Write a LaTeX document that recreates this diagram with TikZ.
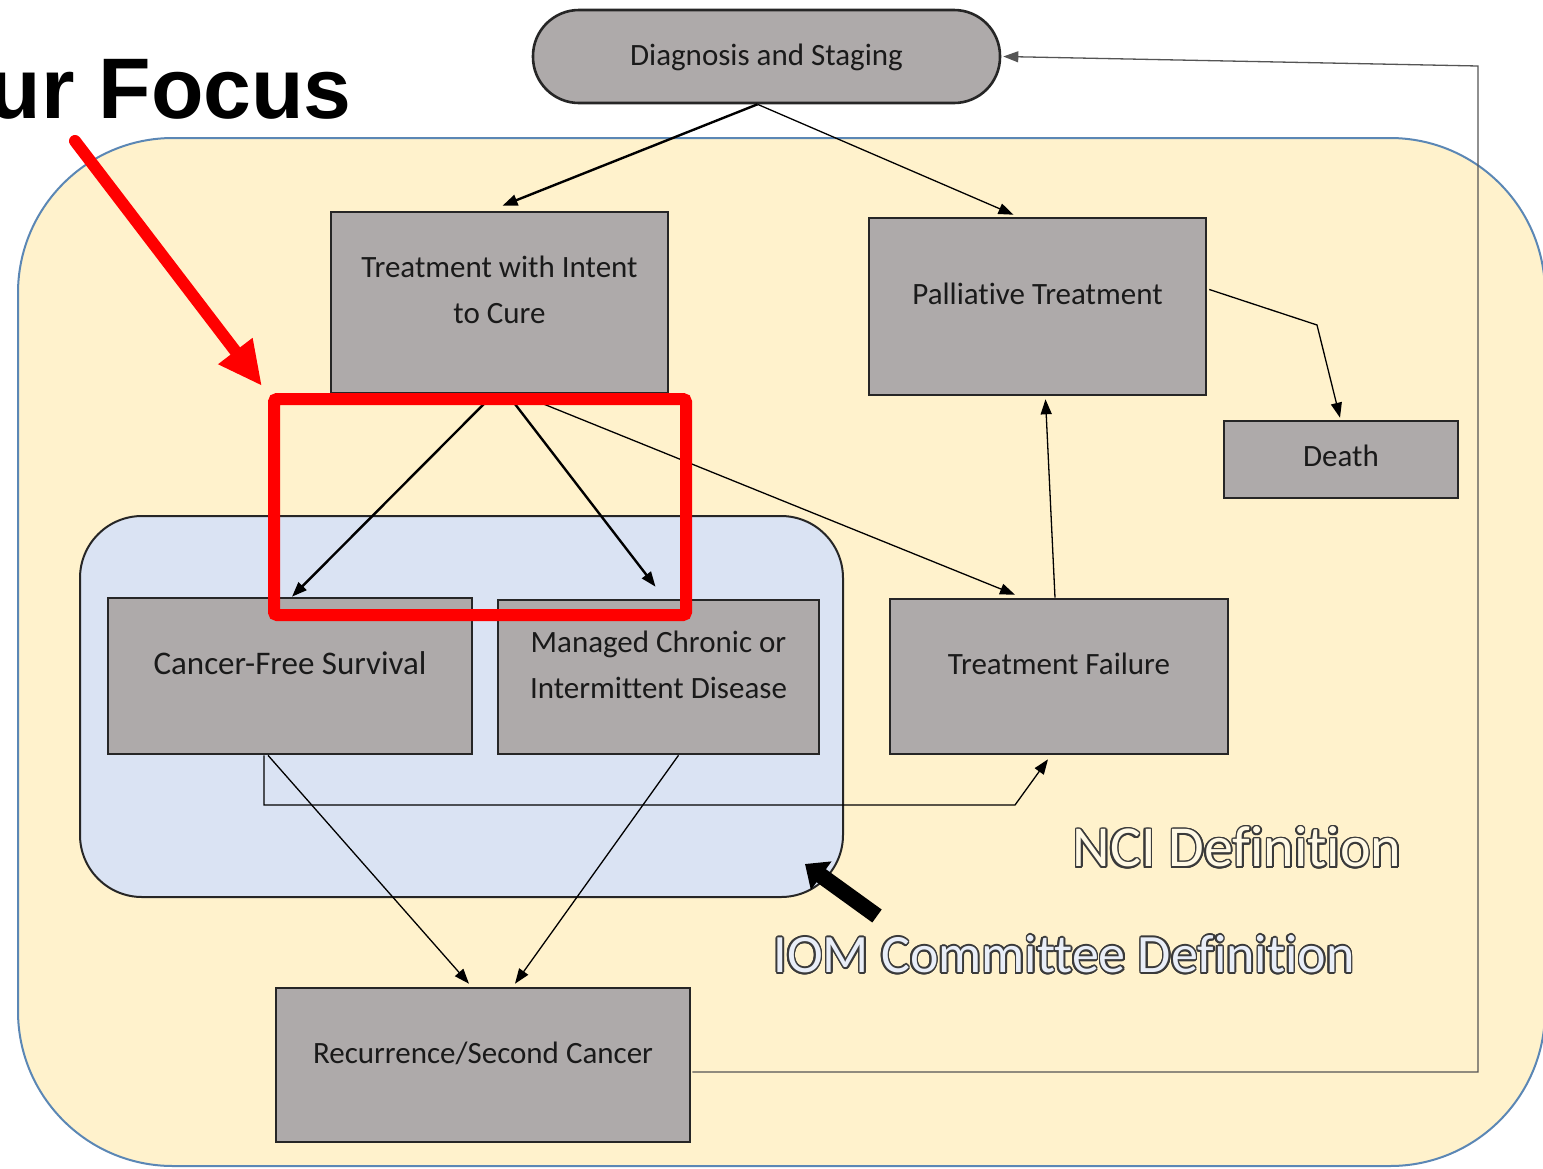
\documentclass[tikz,border=0pt]{standalone}
\usepackage{fontspec}
\setmainfont{Carlito}[Ligatures={NoCommon}]
\newfontfamily\focusfont{Liberation Sans}
\usepackage{contour}
\contourlength{1.6pt}
\usetikzlibrary{arrows.meta,calc}
\definecolor{yel}{HTML}{FFF2CC}
\definecolor{blu}{HTML}{DAE3F3}
\definecolor{boxg}{HTML}{AEAAAA}
\definecolor{bord}{HTML}{262626}
\definecolor{framec}{HTML}{5B87B5}
\definecolor{txt}{HTML}{1A1A1A}
\definecolor{outl}{HTML}{3A3A3A}
\definecolor{loopc}{HTML}{555555}
\begin{document}
\begin{tikzpicture}[x=1pt,y=-1pt,
  box/.style={draw=bord, fill=boxg, line width=2.6pt, inner sep=0pt},
  lbl/.style={text=txt, font=\fontsize{31}{46}\selectfont, align=center, inner sep=0pt},
  conn/.style={draw=black, line width=1.3pt, -{Triangle[length=15pt,width=11pt]}},
  connthick/.style={conn, line width=2.4pt},
  region/.style={inner sep=0pt},
  outlined/.style={inner sep=0pt, font=\fontsize{58}{60}\selectfont}
]
\useasboundingbox (0,0) rectangle (1543,1168);
\fill[white] (0,0) rectangle (1543,1168);

% regions
\node[region, draw=framec, fill=yel, line width=2pt, rounded corners=155pt,
      minimum width=1527pt, minimum height=1028pt] (nciarea) at (781.5,652) {};
\node[region, draw=bord, fill=blu, line width=2pt, rounded corners=62pt,
      minimum width=763pt, minimum height=381pt] (iomarea) at (461.5,706.5) {};

% boxes
\node[box, rounded corners=46pt, minimum width=467pt, minimum height=93pt] (diag) at (766.5,56.5) {};
\node[box, minimum width=337pt, minimum height=181pt] (treat) at (499.5,302.5) {};
\node[box, minimum width=337pt, minimum height=177pt] (pall) at (1037.5,306.5) {};
\node[box, minimum width=234pt, minimum height=77pt] (death) at (1341,459.5) {};
\node[box, minimum width=364pt, minimum height=156pt] (cfs) at (290,676) {};
\node[box, minimum width=321pt, minimum height=154pt] (mcd) at (658.5,677) {};
\node[box, minimum width=338pt, minimum height=155pt] (tf) at (1059,676.5) {};
\node[box, minimum width=414pt, minimum height=154pt] (rec) at (483,1065) {};

% connectors
\draw[connthick] ($(diag.south)+(-9,0)$) -- ($(treat.north)+(3,-5)$);
\draw[conn] ($(diag.south)+(-9,0)$) -- ($(pall.north)+(-24,-2)$);
\draw[conn] ($(pall.east)+(2,-17)$) -- (1317,325) -- ($(death.north)+(-1,-2)$);
\draw[connthick] ($(treat.south)+(-6,0)$) -- ($(cfs.north)+(2,0)$);
\draw[connthick] ($(treat.south)+(8,0)$) -- ($(mcd.north)+(-3,-12)$);
\draw[conn] ($(treat.south)+(20,0)$) -- ($(tf.north)+(-44,-3)$);
\draw[conn] ($(tf.north)+(-4,0)$) -- ($(pall.south)+(8,3)$);
\draw[conn] ($(cfs.south)+(-26,0)$) -- (264,805) -- (1015,805) -- ($(tf.south)+(-11,4)$);
\draw[conn] ($(cfs.south)+(-22,0)$) -- ($(rec.north)+(-14,-3)$);
\draw[conn] ($(mcd.south)+(20,0)$) -- ($(rec.north)+(32,-3)$);
\draw[conn, draw=loopc] ($(rec.east)+(1,7)$) -- (1478,1072) -- (1478,66) -- ($(diag.east)+(2,0)$);

% box texts
\node[lbl] (diagT) at (766.5,57) {Diagnosis and Staging};
\node[lbl] (treatT) at (499.5,290) {Treatment with Intent\\to Cure};
\node[lbl] (pallT) at (1037.5,294) {Palliative Treatment};
\node[lbl] (deathT) at (1341,456) {Death};
\node[lbl, font=\fontsize{33}{46}\selectfont] (cfsT) at (290,663) {Cancer-Free Survival};
\node[lbl] (mcdT) at (658.5,665) {Managed Chronic or\\Intermittent Disease};
\node[lbl] (tfT) at (1059,664) {Treatment Failure};
\node[lbl] (recT) at (483,1053) {Recurrence/Second Cancer};

% definitions
\node[outlined] (nci) at (1237,848) {\contour{outl}{\textcolor{yel!50!white}{NCI Definition}}};
\node[outlined, font=\fontsize{54}{60}\selectfont] (iom) at (1064,955) {\contour{outl}{\textcolor{blu!60!white}{IOM Committee Definition}}};
\coordinate (iomtail) at (877,916);
\coordinate (iomtip) at (805,864);
\draw[black, line width=16pt, -{Triangle[length=20pt,width=34pt]}] (iomtail) -- (iomtip);

% focus
\node[draw=red, line width=12pt, rounded corners=3pt, minimum width=412pt, minimum height=216pt, inner sep=0pt] (focusbox) at (480,507) {};
\node[anchor=base east, inner sep=0pt, font=\focusfont\bfseries\fontsize{86}{90}\selectfont] (focus) at (352,118) {ur Focus};
\coordinate (fstart) at (75,141);
\coordinate (ftip) at (262,386);
\draw[red, line width=12pt, line cap=round, -{Triangle[length=44pt,width=40pt]}] (fstart) -- (ftip);
\end{tikzpicture}
\end{document}
